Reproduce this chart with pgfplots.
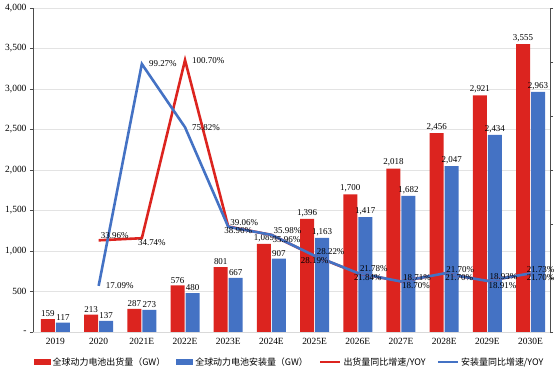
\documentclass[border=0pt]{standalone}
\usepackage{pgfplots}
\pgfplotsset{compat=1.18}
\usepackage{fontspec}
\setmainfont{Liberation Serif}
\newfontfamily\cjk{Noto Sans CJK SC}
\definecolor{cred}{HTML}{DC241F}
\definecolor{cblue}{HTML}{4472C4}
\begin{document}
\begin{tikzpicture}[font=\fontsize{9.5}{11}\selectfont]
\pgfplotsset{
  /pgf/number format/assume math mode=true,
  lab/.style={draw=none, mark=none, forget plot, point meta=explicit symbolic,
    nodes near coords,
    every node near coord/.append style={font=\fontsize{9}{10}\selectfont, inner sep=1bp, text=black, #1}},
}
\begin{axis}[name=ax,
  scale only axis, width=517bp, height=324bp,
  xmin=-0.52, xmax=11.45, ymin=0, ymax=4000,
  axis y line*=left, axis x line*=bottom,
  x axis line style={-, draw=gray!30, line width=0.8pt},
  y axis line style={-, draw=black!70, line width=0.8pt},
  xtick={0,...,11},
  xticklabels={2019,2020,2021E,2022E,2023E,2024E,2025E,2026E,2027E,2028E,2029E,2030E},
  x tick style={draw=none},
  ytick={0,500,...,4000},
  yticklabels={-,500,{1,000},{1,500},{2,000},{2,500},{3,000},{3,500},{4,000}},
  y tick style={draw=black!70, line width=0.8pt},
  tick align=outside, major tick length=3bp,
  ymajorgrids, grid style={gray!22, line width=0.8pt},
  ybar=1bp, bar width=14bp,
  nodes near coords={\pgfmathprintnumber[fixed,precision=0,1000 sep={,}]{\pgfplotspointmeta}},
  every node near coord/.append style={font=\fontsize{9}{10}\selectfont, text=black, inner sep=2bp},
  legend columns=4,
  legend style={at={(0.5,0)}, anchor=center, yshift=-30bp, xshift=-2bp, draw=none, fill=none,
    font=\cjk\fontsize{9}{10}\selectfont,
    /tikz/every even column/.append style={column sep=9bp}},
]
\addplot[fill=cred, draw=none, legend image code/.code={\fill[cred] (0bp,-2.5bp) rectangle (17bp,2.5bp);}]
  coordinates {(0,159)(1,213)(2,287)(3,576)(4,801)(5,1089)(6,1396)(7,1700)(8,2018)(9,2456)(10,2921)(11,3555)};
\addlegendentry{全球动力电池出货量（GW）}
\addplot[fill=cblue, draw=none, legend image code/.code={\fill[cblue] (0bp,-2.5bp) rectangle (17bp,2.5bp);}]
  coordinates {(0,117)(1,137)(2,273)(3,480)(4,667)(5,907)(6,1163)(7,1417)(8,1682)(9,2047)(10,2434)(11,2963)};
\addlegendentry{全球动力电池安装量（GW）}
\addlegendimage{legend image code/.code={\draw[cred, line width=2.6pt] (0bp,0bp) -- (20bp,0bp);}}
\addlegendentry{出货量同比增速/YOY}
\addlegendimage{legend image code/.code={\draw[cblue, line width=2.6pt] (0bp,0bp) -- (20bp,0bp);}}
\addlegendentry{安装量同比增速/YOY}
\end{axis}
\begin{axis}[
  scale only axis, width=517bp, height=324bp,
  xmin=-0.52, xmax=11.45, ymin=0, ymax=120,
  axis y line*=right, axis x line=none,
  y axis line style={-, draw=black!70, line width=0.8pt},
  ytick={0,20,...,120}, yticklabels={},
  y tick style={draw=black!70, line width=0.8pt},
  tick align=outside, major tick length=3bp,
]
\addplot[cred, line width=2.6pt, mark=none]
  coordinates {(1,33.96)(2,34.74)(3,100.70)(4,39.06)(5,35.96)(6,28.19)(7,21.78)(8,18.71)(9,21.70)(10,18.93)(11,21.70)};
\addplot[cblue, line width=2.6pt, mark=none]
  coordinates {(1,17.09)(2,99.27)(3,75.82)(4,38.96)(5,35.98)(6,28.22)(7,21.84)(8,18.70)(9,21.70)(10,18.91)(11,21.73)};
% labels above right
\addplot[lab={anchor=south west, xshift=1bp}] coordinates {
  (1,33.96)[33.96\%] (4,39.06)[39.06\%] (5,35.98)[35.98\%] (6,28.22)[28.22\%]
  (7,21.78)[21.78\%] (8,18.71)[18.71\%] (9,21.70)[21.70\%] (10,18.93)[18.93\%]};
\addplot[lab={anchor=south west, xshift=-5bp}] coordinates {(11,21.73)[21.73\%]};
% labels below
\addplot[lab={anchor=north west, xshift=0bp}] coordinates {
  (5,35.96)[35.96\%] (8,18.70)[18.70\%] (9,21.70)[21.70\%] (10,18.91)[18.91\%]};
\addplot[lab={anchor=north west, xshift=-5bp}] coordinates {
  (2,34.74)[34.74\%] (4,38.96)[38.96\%] (11,21.70)[21.70\%] (7,21.84)[21.84\%]};
\addplot[lab={anchor=north west, xshift=-15bp}] coordinates {(6,28.19)[28.19\%]};
% labels right
\addplot[lab={anchor=west, xshift=6bp}] coordinates {
  (1,17.09)[17.09\%] (2,99.27)[99.27\%] (3,100.70)[100.70\%] (3,75.82)[75.82\%]};
\end{axis}
\pgfresetboundingbox
\path ([shift={(-33bp,-36bp)}]ax.south west) rectangle ([shift={(4bp,8bp)}]ax.north east);
\end{tikzpicture}
\end{document}
